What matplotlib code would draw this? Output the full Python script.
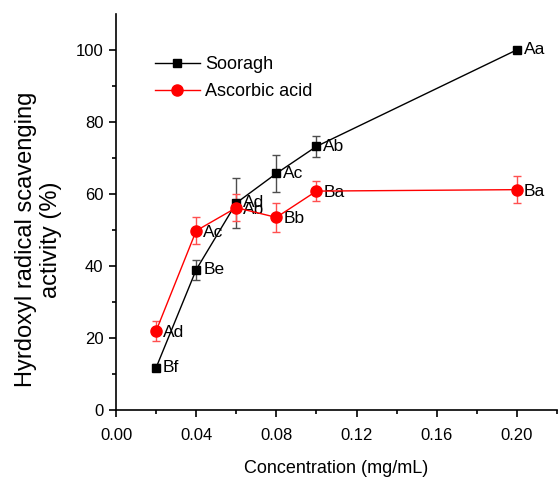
import matplotlib
matplotlib.use("Agg")
import matplotlib.pyplot as plt

plt.rcParams['font.family'] = ['Liberation Sans', 'DejaVu Sans']

conc = [0.02, 0.04, 0.06, 0.08, 0.10, 0.20]
sooragh = [11.8, 39.0, 57.5, 65.7, 73.2, 100.0]
sooragh_err = [1.0, 2.8, 7.0, 5.2, 3.0, 0.5]
sooragh_lbl = ['Bf', 'Be', 'Ad', 'Ac', 'Ab', 'Aa']
ascorbic = [22.0, 49.8, 56.2, 53.5, 60.8, 61.2]
ascorbic_err = [2.8, 3.8, 3.8, 4.0, 2.8, 3.8]
ascorbic_lbl = ['Ad', 'Ac', 'Ab', 'Bb', 'Ba', 'Ba']

fig = plt.figure(figsize=(5.58, 4.78), dpi=100)
ax = fig.add_axes([0.208, 0.142, 0.79, 0.829])

# error bars
ax.errorbar(conc, sooragh, yerr=sooragh_err, fmt='none', ecolor='#4d4d4d',
            elinewidth=1, capsize=3, zorder=2)
ax.errorbar(conc, ascorbic, yerr=ascorbic_err, fmt='none', ecolor='#ff5050',
            elinewidth=1, capsize=3, zorder=2)
# lines + markers
ax.plot(conc, sooragh, color='black', lw=1, marker='s', ms=6.2, label='Sooragh', zorder=3)
ax.plot(conc, ascorbic, color='red', lw=1, marker='o', ms=8, label='Ascorbic acid', zorder=4)

for x, y, t in zip(conc, sooragh, sooragh_lbl):
    ax.annotate(t, (x, y), xytext=(5, 0), textcoords='offset points', va='center', fontsize=12.5)
for x, y, t in zip(conc, ascorbic, ascorbic_lbl):
    ax.annotate(t, (x, y), xytext=(5, -1), textcoords='offset points', va='center', fontsize=12.5)

ax.set_xlim(0, 0.22)
ax.set_ylim(0, 110)
ax.set_xticks([0.00, 0.04, 0.08, 0.12, 0.16, 0.20])
ax.set_xticklabels(['0.00', '0.04', '0.08', '0.12', '0.16', '0.20'])
ax.set_yticks([0, 20, 40, 60, 80, 100])
ax.set_xticks([0.02, 0.06, 0.10, 0.14, 0.18, 0.22], minor=True)
ax.set_yticks([10, 30, 50, 70, 90], minor=True)
ax.tick_params(axis='x', direction='out', labelsize=12, length=5, width=1.2, pad=8)
ax.tick_params(axis='y', direction='out', labelsize=12, length=5, width=1.2, pad=4)
ax.tick_params(which='minor', direction='out', length=3, width=1.2)
for s in ['top', 'right']:
    ax.spines[s].set_visible(False)
for s in ['left', 'bottom']:
    ax.spines[s].set_linewidth(1.2)

ax.set_xlabel('Concentration (mg/mL)', fontsize=13, labelpad=12)
ax.set_ylabel('Hyrdoxyl radical scavenging\nactivity (%)', fontsize=17, linespacing=1.2)
ax.yaxis.set_label_coords(-0.122, 0.43)

ax.legend(loc='upper left', bbox_to_anchor=(0.088, 0.893), frameon=False, fontsize=13,
          handlelength=2.5, borderpad=0, borderaxespad=0, handletextpad=0.3,
          labelspacing=0.55)

fig.savefig('out.png', dpi=100)
